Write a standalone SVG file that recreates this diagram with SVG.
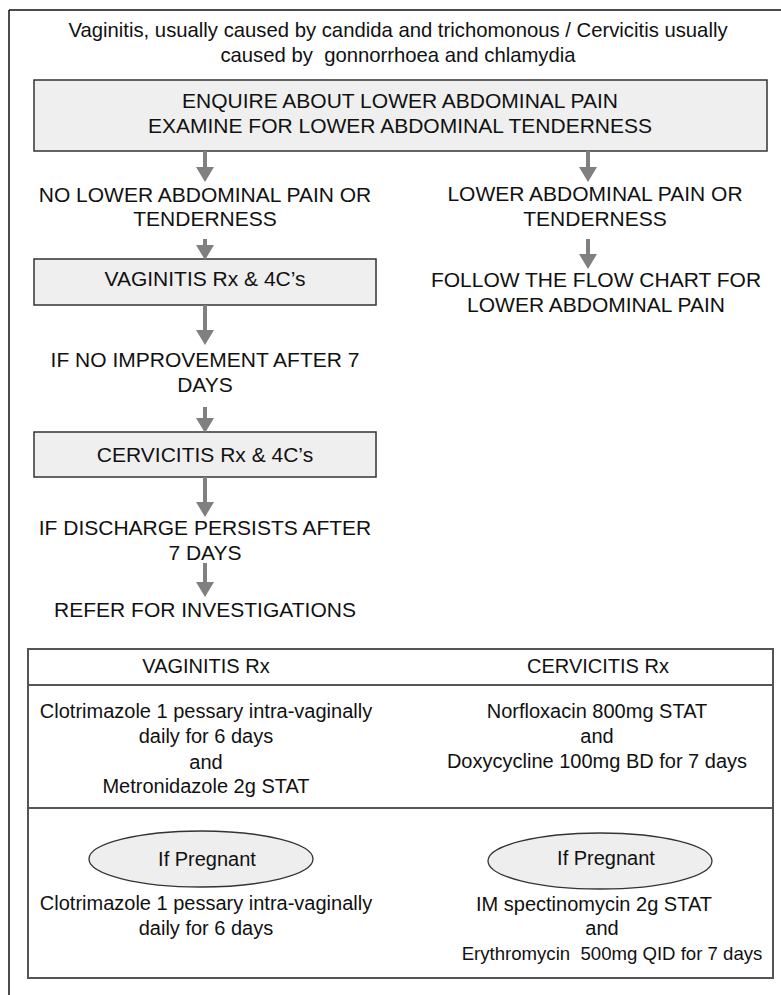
<svg xmlns="http://www.w3.org/2000/svg" width="781" height="995" viewBox="0 0 781 995">
  <style>
    text { font-family: "Liberation Sans", Arial, sans-serif; fill: #111; text-anchor: middle; white-space: pre; }
    .lbl { font-size: 21px; }
    .body { font-size: 20px; }
    .box { fill: #efefef; stroke: #333; stroke-width: 1.5; }
    .tbl { fill: none; stroke: #555; stroke-width: 2; }
    .oval { fill: #eeeeee; stroke: #333; stroke-width: 1.3; }
    .arrow { stroke: #808080; stroke-width: 4; fill: none; marker-end: url(#head); }
  </style>
  <defs>
    <marker id="head" viewBox="0 0 15 18" refX="0" refY="9" markerWidth="15" markerHeight="18" markerUnits="userSpaceOnUse" orient="auto">
      <path d="M0,0 L15,9 L0,18 z" fill="#808080"/>
    </marker>
  </defs>
  <rect width="781" height="995" fill="#fff"/>

  <!-- outer frame: top and left rules -->
  <g id="frame" fill="none" stroke="#111" stroke-width="1.5">
    <line x1="9" y1="10" x2="781" y2="10"/>
    <line x1="9" y1="10" x2="9" y2="995"/>
  </g>

  <g id="title">
    <text class="body" x="398" y="37" style="font-size:20.3px">Vaginitis, usually caused by candida and trichomonous / Cervicitis usually</text>
    <text class="body" x="398" y="62" style="font-size:20.3px" xml:space="preserve">caused by  gonnorrhoea and chlamydia</text>
  </g>

  <g id="enquire">
    <rect class="box" x="34" y="80" width="733" height="71"/>
    <text class="lbl" x="400" y="108">ENQUIRE ABOUT LOWER ABDOMINAL PAIN</text>
    <text class="lbl" x="400" y="133">EXAMINE FOR LOWER ABDOMINAL TENDERNESS</text>
  </g>

  <g id="no-pain">
    <text class="lbl" x="205" y="202">NO LOWER ABDOMINAL PAIN OR</text>
    <text class="lbl" x="205" y="226">TENDERNESS</text>
  </g>

  <g id="pain">
    <text class="lbl" x="595" y="201">LOWER ABDOMINAL PAIN OR</text>
    <text class="lbl" x="595" y="226">TENDERNESS</text>
  </g>

  <g id="follow-chart">
    <text class="lbl" x="596" y="287">FOLLOW THE FLOW CHART FOR</text>
    <text class="lbl" x="596" y="312">LOWER ABDOMINAL PAIN</text>
  </g>

  <g id="vaginitis-rx">
    <rect class="box" x="34" y="259" width="342" height="46"/>
    <text class="lbl" x="205" y="286">VAGINITIS Rx &amp; 4C’s</text>
  </g>

  <g id="no-improvement">
    <text class="lbl" x="205" y="367">IF NO IMPROVEMENT AFTER 7</text>
    <text class="lbl" x="205" y="392">DAYS</text>
  </g>

  <g id="cervicitis-rx">
    <rect class="box" x="34" y="432" width="342" height="45"/>
    <text class="lbl" x="205" y="462">CERVICITIS Rx &amp; 4C’s</text>
  </g>

  <g id="persists">
    <text class="lbl" x="205" y="535">IF DISCHARGE PERSISTS AFTER</text>
    <text class="lbl" x="205" y="560">7 DAYS</text>
  </g>

  <g id="refer">
    <text class="lbl" x="205" y="617">REFER FOR INVESTIGATIONS</text>
  </g>

  <g id="connectors">
    <line class="arrow" x1="205" y1="151" x2="205" y2="167"/>
    <line class="arrow" x1="588" y1="151" x2="588" y2="167"/>
    <line class="arrow" x1="205" y1="239" x2="205" y2="245"/>
    <line class="arrow" x1="588" y1="239" x2="588" y2="254"/>
    <line class="arrow" x1="205" y1="305" x2="205" y2="330"/>
    <line class="arrow" x1="205" y1="407" x2="205" y2="418"/>
    <line class="arrow" x1="205" y1="477" x2="205" y2="502"/>
    <line class="arrow" x1="205" y1="563" x2="205" y2="582"/>
  </g>

  <!-- treatment table -->
  <g id="treatment-table">
    <rect class="tbl" x="28" y="649" width="745" height="329"/>
    <line class="tbl" x1="28" y1="685" x2="773" y2="685"/>
    <line class="tbl" x1="28" y1="808" x2="773" y2="808"/>
  </g>

  <g id="vaginitis-col">
    <text class="body" x="206" y="673">VAGINITIS Rx</text>
    <text class="body" x="206" y="718">Clotrimazole 1 pessary intra-vaginally</text>
    <text class="body" x="206" y="743">daily for 6 days</text>
    <text class="body" x="206" y="769">and</text>
    <text class="body" x="206" y="793">Metronidazole 2g STAT</text>
  </g>

  <g id="cervicitis-col">
    <text class="body" x="598" y="673">CERVICITIS Rx</text>
    <text class="body" x="597" y="718">Norfloxacin 800mg STAT</text>
    <text class="body" x="597" y="743">and</text>
    <text class="body" x="597" y="768">Doxycycline 100mg BD for 7 days</text>
  </g>

  <g id="vaginitis-pregnant">
    <ellipse class="oval" cx="201" cy="859" rx="112" ry="28"/>
    <text class="body" x="207" y="866">If Pregnant</text>
    <text class="body" x="206" y="910">Clotrimazole 1 pessary intra-vaginally</text>
    <text class="body" x="206" y="935">daily for 6 days</text>
  </g>

  <g id="cervicitis-pregnant">
    <ellipse class="oval" cx="600" cy="861" rx="112" ry="28"/>
    <text class="body" x="606" y="865">If Pregnant</text>
    <text class="body" x="594" y="911">IM spectinomycin 2g STAT</text>
    <text class="body" x="602" y="935">and</text>
    <text class="body" x="612" y="960" style="font-size:18.6px" xml:space="preserve">Erythromycin  500mg QID for 7 days</text>
  </g>
</svg>
